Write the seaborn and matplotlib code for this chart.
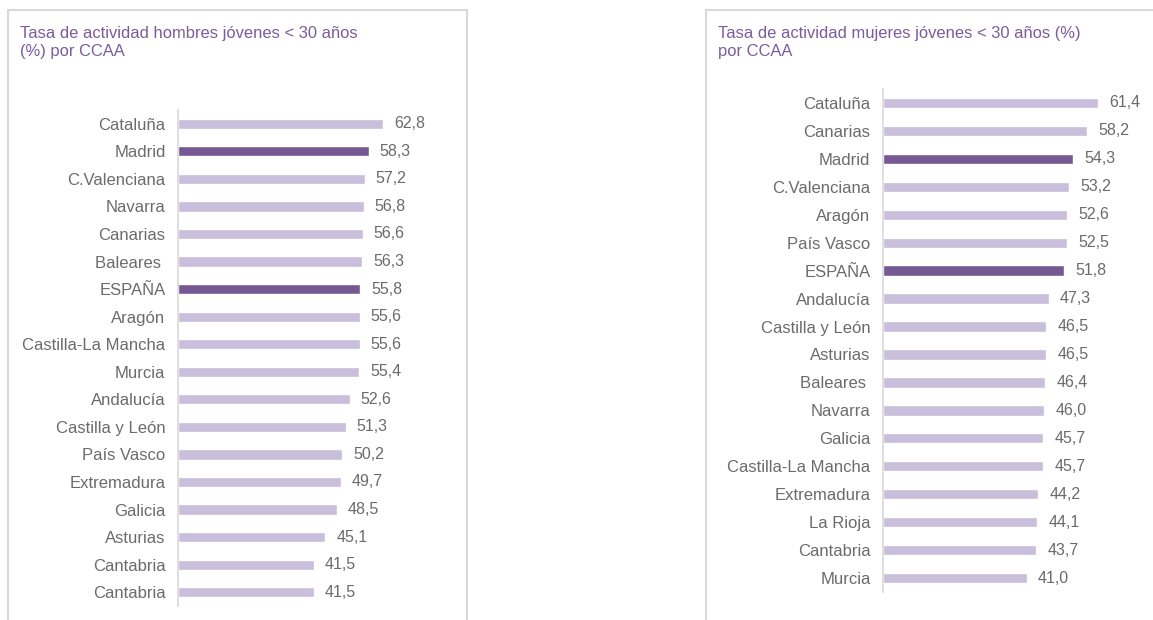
import matplotlib
matplotlib.use('Agg')
import matplotlib.pyplot as plt
from matplotlib.patches import Rectangle
import seaborn as sns
import pandas as pd

# datos (%) tasa de actividad jovenes < 30 años
ccaa_h = ['Cataluña', 'Madrid', 'C.Valenciana', 'Navarra', 'Canarias', 'Baleares ',
          'ESPAÑA', 'Aragón', 'Castilla-La Mancha', 'Murcia', 'Andalucía',
          'Castilla y León', 'País Vasco', 'Extremadura', 'Galicia', 'Asturias',
          'Cantabria', 'Cantabria']
val_h = [62.8, 58.3, 57.2, 56.8, 56.6, 56.3, 55.8, 55.6, 55.6, 55.4, 52.6,
         51.3, 50.2, 49.7, 48.5, 45.1, 41.5, 41.5]

ccaa_m = ['Cataluña', 'Canarias', 'Madrid', 'C.Valenciana', 'Aragón', 'País Vasco',
          'ESPAÑA', 'Andalucía', 'Castilla y León', 'Asturias', 'Baleares ',
          'Navarra', 'Galicia', 'Castilla-La Mancha', 'Extremadura', 'La Rioja',
          'Cantabria', 'Murcia']
val_m = [61.4, 58.2, 54.3, 53.2, 52.6, 52.5, 51.8, 47.3, 46.5, 46.5, 46.4,
         46.0, 45.7, 45.7, 44.2, 44.1, 43.7, 41.0]

destacar = ['Madrid', 'ESPAÑA']

titulo_h = 'Tasa de actividad hombres jóvenes < 30 años\n(%) por CCAA'
titulo_m = 'Tasa de actividad mujeres jóvenes < 30 años (%)\npor CCAA'

CLARO = '#c9bedb'
OSCURO = '#765893'
GRIS = '#6b6b6b'
MORADO = '#7a5c9c'
BORDE = '#d9d9d9'

sns.set_style('white')
plt.rcParams['font.family'] = ['Liberation Sans', 'DejaVu Sans']

W, H = 1153, 620
fig = plt.figure(figsize=(W / 100, H / 100), dpi=100)


def px_axes(x0, y0, x1, y1):
    # coordenadas en pixeles (origen arriba a la izquierda)
    return fig.add_axes([x0 / W, (H - y1) / H, (x1 - x0) / W, (y1 - y0) / H])


def dibujar(ax, nombres, valores):
    df = pd.DataFrame({'id': [str(i) for i in range(len(nombres))],
                       'ccaa': nombres, 'valor': valores})
    df['tipo'] = ['d' if n.strip() in destacar else 'n' for n in nombres]
    sns.barplot(data=df, x='valor', y='id', hue='tipo', orient='h',
                palette={'n': CLARO, 'd': OSCURO}, width=0.37, dodge=False,
                legend=False, ax=ax, saturation=1)
    ax.set_xlim(0, 70)
    ax.set_ylim(len(nombres) - 0.5, -0.5)
    ax.set_yticks(range(len(nombres)))
    ax.set_yticklabels(nombres, color=GRIS, fontsize=12)
    ax.tick_params(axis='y', length=0, pad=9)
    ax.set_xticks([])
    ax.set_xlabel('')
    ax.set_ylabel('')
    for s in ['top', 'right', 'bottom']:
        ax.spines[s].set_visible(False)
    ax.spines['left'].set_color(BORDE)
    ax.spines['left'].set_linewidth(1.2)
    for i, v in enumerate(valores):
        ax.text(v + 3.3, i, f'{v:.1f}'.replace('.', ','), va='center',
                ha='left', color=GRIS, fontsize=11.5, clip_on=False)


ax1 = px_axes(178, 110, 178 + 70 * 3.27, 606)
dibujar(ax1, ccaa_h, val_h)

ax2 = px_axes(883, 89, 883 + 70 * 3.50, 592)
dibujar(ax2, ccaa_m, val_m)

# marcos de los paneles (abiertos por abajo / derecha)
for x0, x1 in [(8, 467), (706, 1170)]:
    fig.patches.append(Rectangle((x0 / W, -0.05), (x1 - x0) / W, (H - 10) / H + 0.05,
                                 transform=fig.transFigure, fill=False,
                                 edgecolor=BORDE, linewidth=1.5))

fig.text(20 / W, 1 - 26 / H, titulo_h, color=MORADO, fontsize=11.9,
         va='top', ha='left', linespacing=1.25)
fig.text(718 / W, 1 - 26 / H, titulo_m, color=MORADO, fontsize=11.9,
         va='top', ha='left', linespacing=1.25)

plt.savefig('out.png', dpi=100)
